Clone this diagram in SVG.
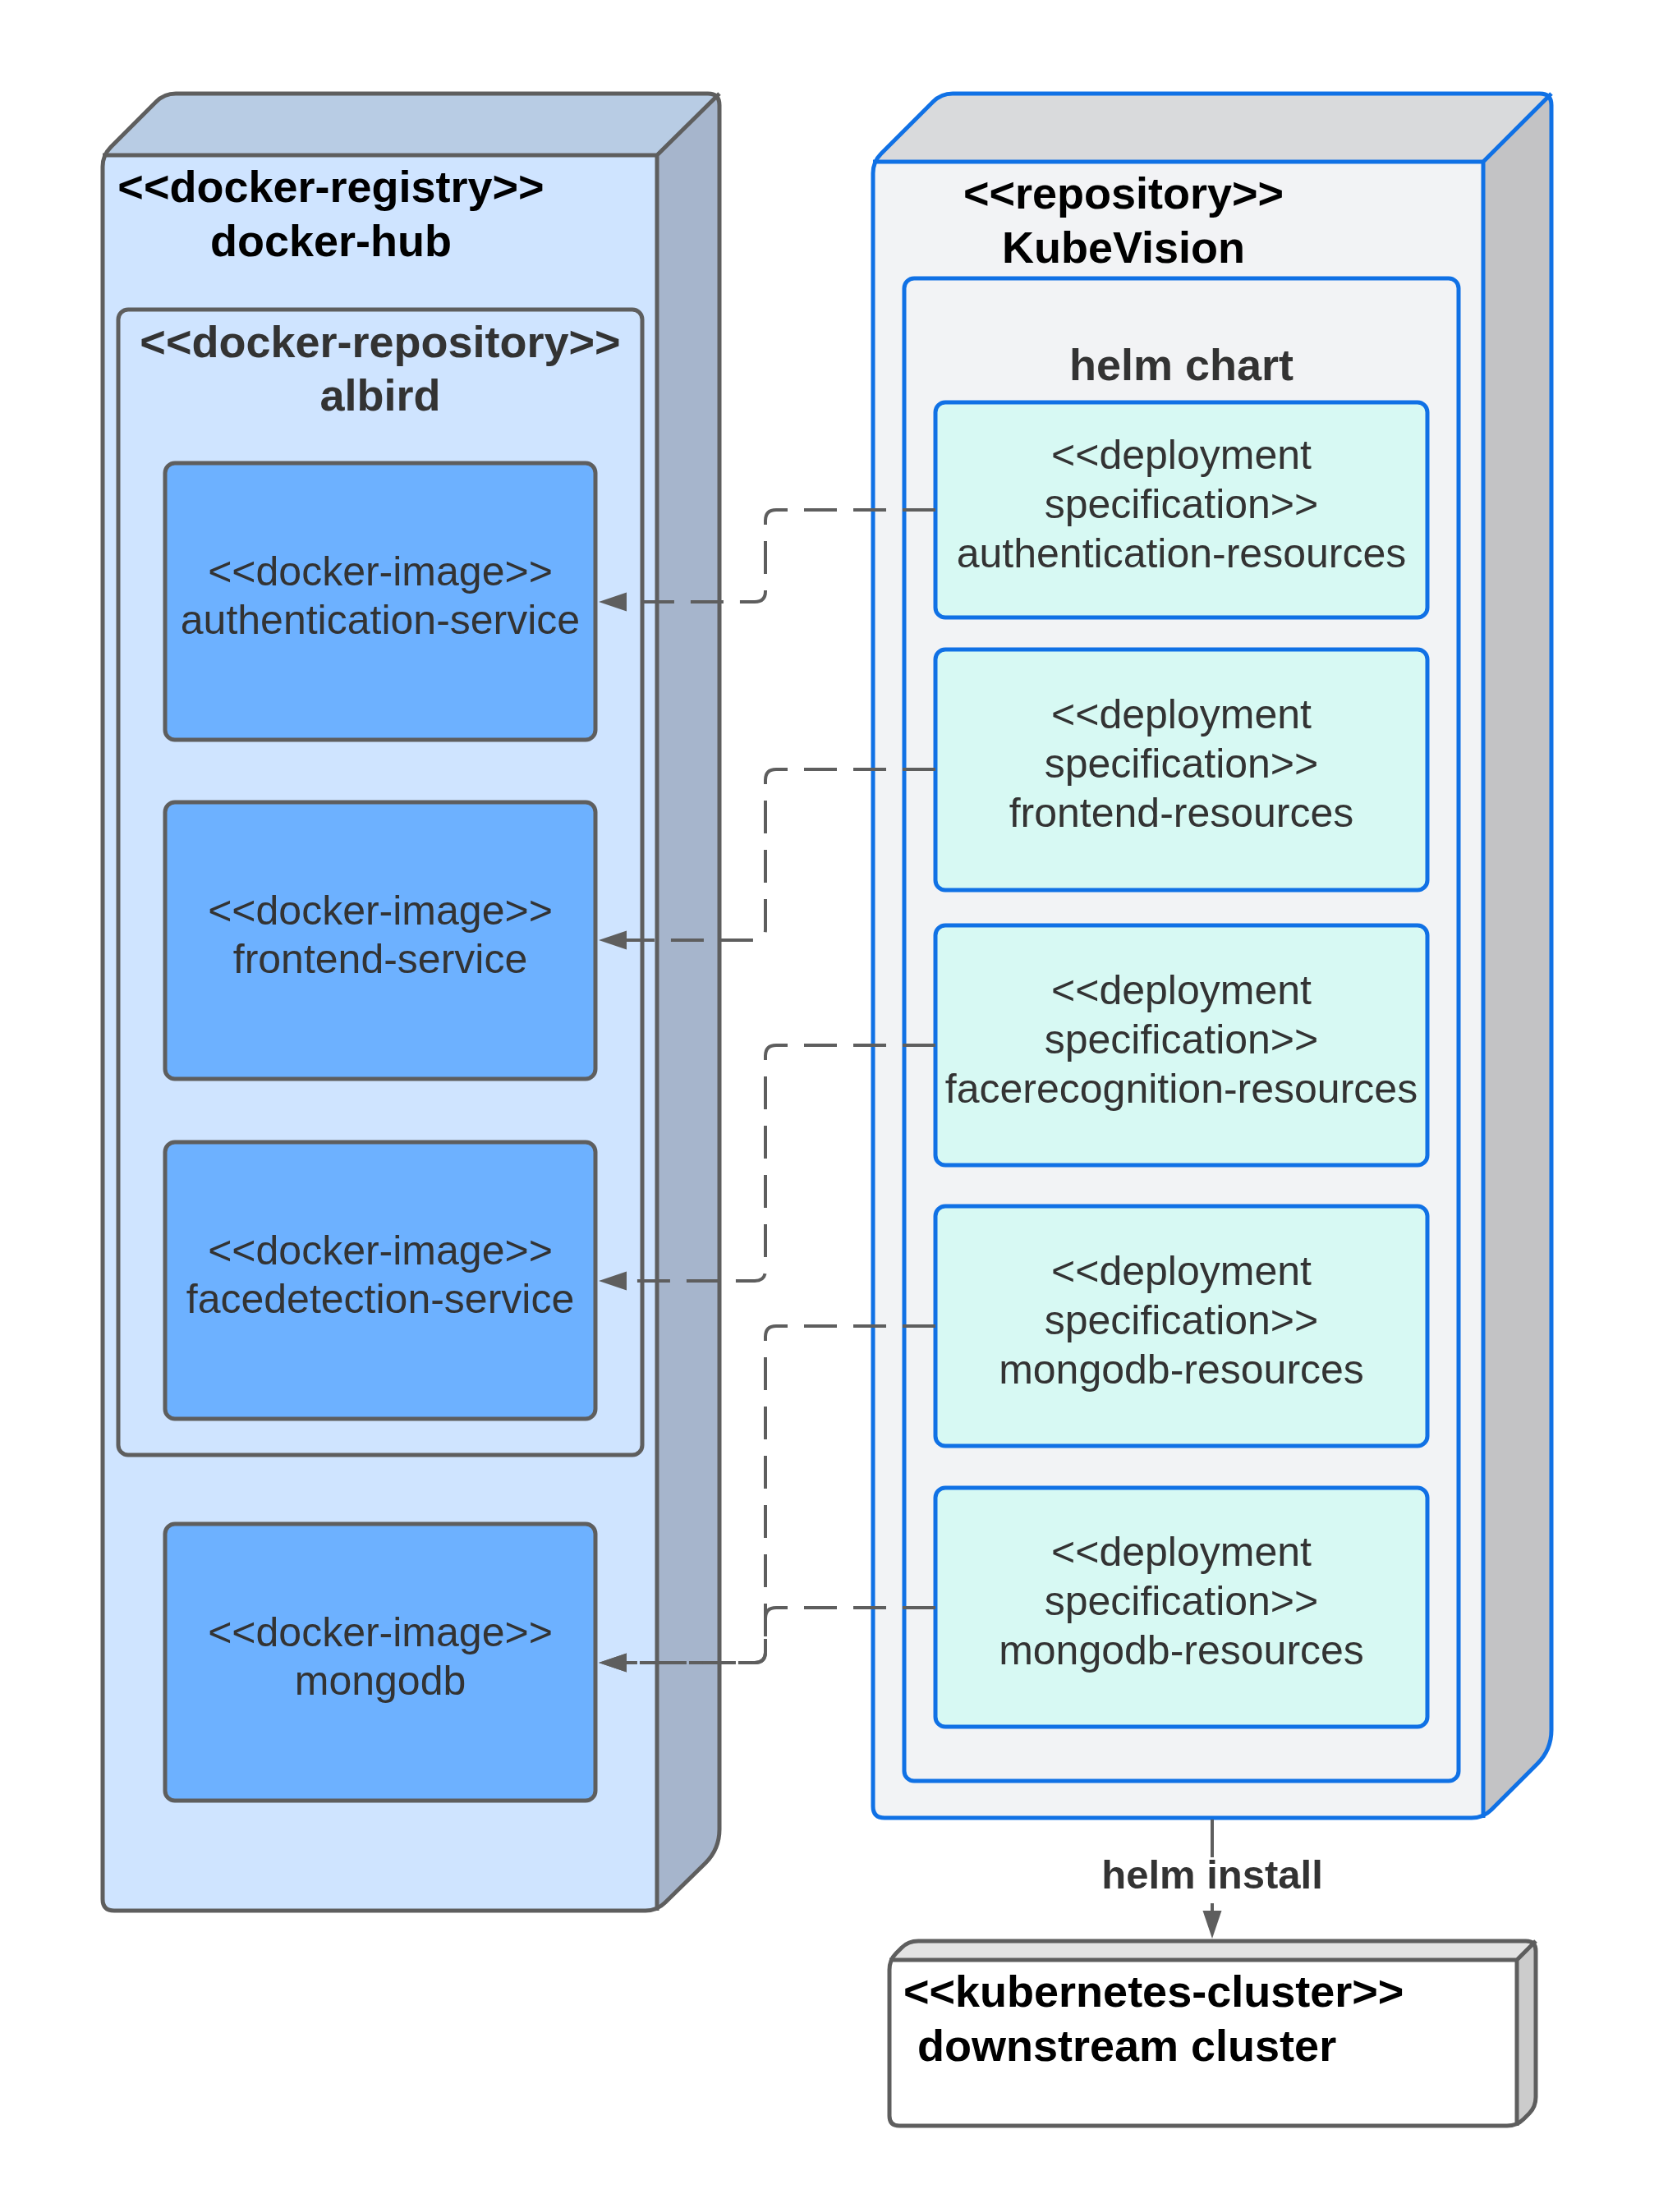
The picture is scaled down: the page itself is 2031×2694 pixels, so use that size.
<svg xmlns="http://www.w3.org/2000/svg" width="2031" height="2694" viewBox="0 0 2031 2694">
<style>
.edge{fill:none;stroke:#5e5e5e;stroke-width:5;stroke-linejoin:round}
.bedge{fill:none;stroke:#1071e5;stroke-width:5;stroke-linejoin:round}
.img{fill:#6db1ff;stroke:#5e5e5e;stroke-width:5}
.spec{fill:#d7f9f3;stroke:#1071e5;stroke-width:5}
.t{font-family:"Liberation Sans",Arial,sans-serif;text-anchor:middle}
.b{font-weight:bold;font-size:54px}
.r{font-size:50px;fill:#333333}
.k{fill:#000000}
.g{fill:#333333}
.dash{fill:none;stroke:#5e5e5e;stroke-width:4;stroke-dasharray:40 20}
</style>
<defs>
<clipPath id="clipL"><path d="M125,2313 V203 Q125,189 135,179 L190,124 Q200,114 214,114 H862 Q876,114 876,128 V2228 Q876,2252 859,2269 L810,2317 Q800,2327 786,2327 H139 Q125,2327 125,2313 Z"/></clipPath>
<clipPath id="clipR"><path d="M1063,2200 V211 Q1063,197 1073,187 L1136,124 Q1146,114 1160,114 H1875 Q1889,114 1889,128 V2107 Q1889,2131 1872,2148 L1816,2204 Q1806,2214 1792,2214 H1077 Q1063,2214 1063,2200 Z"/></clipPath>
<clipPath id="clipC"><path d="M1083,2577 V2399 Q1083,2387 1091,2379 L1098,2372 Q1106,2364 1118,2364 H1858 Q1870,2364 1870,2376 V2554 Q1870,2566 1862,2574 L1855,2581 Q1847,2589 1835,2589 H1095 Q1083,2589 1083,2577 Z"/></clipPath>
<marker id="arr" markerUnits="userSpaceOnUse" viewBox="0 0 34 24" markerWidth="34" markerHeight="24" refX="0" refY="12" orient="auto">
<path d="M0,0.5 L34,12 L0,23.5 Z" fill="#5e5e5e"/>
</marker>
</defs>
<rect x="0" y="0" width="2031" height="2694" fill="#ffffff"/>

<g id="docker-hub">
<g clip-path="url(#clipL)">
<polygon points="125,189 200,114 876,114 800,189" fill="#b8cce4"/>
<polygon points="800,189 876,114 876,2252 800,2327" fill="#a6b5cc"/>
<rect x="125" y="189" width="675" height="2138" fill="#cfe4ff"/>
</g>
<path class="edge" d="M125,2313 V203 Q125,189 135,179 L190,124 Q200,114 214,114 H862 Q876,114 876,128 V2228 Q876,2252 859,2269 L810,2317 Q800,2327 786,2327 H139 Q125,2327 125,2313 Z"/>
<path class="edge" d="M125,189 H800 L876,114 M800,189 V2327"/>
<text class="t b k" x="403" y="246">&lt;&lt;docker-registry&gt;&gt;</text>
<text class="t b k" x="403" y="312">docker-hub</text>
</g>

<g id="albird">
<rect x="144" y="377" width="638" height="1395" rx="12" fill="#cfe4ff" stroke="#5e5e5e" stroke-width="5"/>
<text class="t b g" x="463" y="435">&lt;&lt;docker-repository&gt;&gt;</text>
<text class="t b g" x="463" y="500">albird</text>
</g>

<g id="img-authentication">
<rect class="img" x="201" y="564" width="524" height="337" rx="12"/>
<text class="t r" x="463" y="713">&lt;&lt;docker-image&gt;&gt;</text>
<text class="t r" x="463" y="772">authentication-service</text>
</g>
<g id="img-frontend">
<rect class="img" x="201" y="977" width="524" height="337" rx="12"/>
<text class="t r" x="463" y="1126">&lt;&lt;docker-image&gt;&gt;</text>
<text class="t r" x="463" y="1185">frontend-service</text>
</g>
<g id="img-facedetection">
<rect class="img" x="201" y="1391" width="524" height="337" rx="12"/>
<text class="t r" x="463" y="1540">&lt;&lt;docker-image&gt;&gt;</text>
<text class="t r" x="463" y="1599">facedetection-service</text>
</g>
<g id="img-mongodb">
<rect class="img" x="201" y="1856" width="524" height="337" rx="12"/>
<text class="t r" x="463" y="2005">&lt;&lt;docker-image&gt;&gt;</text>
<text class="t r" x="463" y="2064">mongodb</text>
</g>

<g id="kubevision">
<g clip-path="url(#clipR)">
<polygon points="1063,197 1146,114 1889,114 1806,197" fill="#d9dadc"/>
<polygon points="1806,197 1889,114 1889,2131 1806,2214" fill="#c3c3c5"/>
<rect x="1063" y="197" width="743" height="2017" fill="#f2f3f5"/>
</g>
<path class="bedge" d="M1063,2200 V211 Q1063,197 1073,187 L1136,124 Q1146,114 1160,114 H1875 Q1889,114 1889,128 V2107 Q1889,2131 1872,2148 L1816,2204 Q1806,2214 1792,2214 H1077 Q1063,2214 1063,2200 Z"/>
<path class="bedge" d="M1063,197 H1806 L1889,114 M1806,197 V2214"/>
<text class="t b k" x="1368" y="254">&lt;&lt;repository&gt;&gt;</text>
<text class="t b k" x="1368" y="320">KubeVision</text>
</g>

<g id="helm-chart">
<rect x="1101" y="339" width="675" height="1830" rx="12" fill="#f2f3f5" stroke="#1071e5" stroke-width="5"/>
<text class="t b g" x="1438.5" y="463">helm chart</text>
</g>

<g id="spec-authentication">
<rect class="spec" x="1139" y="490" width="599" height="262" rx="12"/>
<text class="t r" x="1438.5" y="570.5">&lt;&lt;deployment</text>
<text class="t r" x="1438.5" y="630.5">specification&gt;&gt;</text>
<text class="t r" x="1438.5" y="690.5">authentication-resources</text>
</g>
<g id="spec-frontend">
<rect class="spec" x="1139" y="791" width="599" height="293" rx="12"/>
<text class="t r" x="1438.5" y="887">&lt;&lt;deployment</text>
<text class="t r" x="1438.5" y="947">specification&gt;&gt;</text>
<text class="t r" x="1438.5" y="1007">frontend-resources</text>
</g>
<g id="spec-facerecognition">
<rect class="spec" x="1139" y="1127" width="599" height="292" rx="12"/>
<text class="t r" x="1438.5" y="1222.5">&lt;&lt;deployment</text>
<text class="t r" x="1438.5" y="1282.5">specification&gt;&gt;</text>
<text class="t r" x="1438.5" y="1342.5">facerecognition-resources</text>
</g>
<g id="spec-mongodb-1">
<rect class="spec" x="1139" y="1469" width="599" height="292" rx="12"/>
<text class="t r" x="1438.5" y="1564.5">&lt;&lt;deployment</text>
<text class="t r" x="1438.5" y="1624.5">specification&gt;&gt;</text>
<text class="t r" x="1438.5" y="1684.5">mongodb-resources</text>
</g>
<g id="spec-mongodb-2">
<rect class="spec" x="1139" y="1812" width="599" height="291" rx="12"/>
<text class="t r" x="1438.5" y="1907">&lt;&lt;deployment</text>
<text class="t r" x="1438.5" y="1967">specification&gt;&gt;</text>
<text class="t r" x="1438.5" y="2027">mongodb-resources</text>
</g>

<g id="downstream-cluster">
<g clip-path="url(#clipC)">
<polygon points="1083,2387 1106,2364 1870,2364 1847,2387" fill="#e3e3e3"/>
<polygon points="1847,2387 1870,2364 1870,2566 1847,2589" fill="#cccccc"/>
<rect x="1083" y="2387" width="764" height="202" fill="#ffffff"/>
</g>
<path class="edge" d="M1083,2577 V2399 Q1083,2387 1091,2379 L1098,2372 Q1106,2364 1118,2364 H1858 Q1870,2364 1870,2376 V2554 Q1870,2566 1862,2574 L1855,2581 Q1847,2589 1835,2589 H1095 Q1083,2589 1083,2577 Z"/>
<path class="edge" d="M1083,2387 H1847 L1870,2364 M1847,2387 V2589"/>
<text class="b k" font-family="Liberation Sans, Arial, sans-serif" x="1100" y="2444">&lt;&lt;kubernetes-cluster&gt;&gt;</text>
<text class="b k" font-family="Liberation Sans, Arial, sans-serif" x="1117" y="2510">downstream cluster</text>
</g>

<g id="connectors">
<path class="dash" marker-end="url(#arr)" d="M1139,621 H945 Q932,621 932,634 V720 Q932,733 919,733 H763"/>
<path class="dash" marker-end="url(#arr)" d="M1139,937 H945 Q932,937 932,950 V1132 Q932,1145 919,1145 H763"/>
<path class="dash" marker-end="url(#arr)" d="M1139,1273 H945 Q932,1273 932,1286 V1547 Q932,1560 919,1560 H763"/>
<path class="dash" marker-end="url(#arr)" d="M1139,1615 H945 Q932,1615 932,1628 V2012 Q932,2025 919,2025 H763"/>
<path class="dash" marker-end="url(#arr)" d="M1139,1958 H945 Q932,1958 932,1971 V2012 Q932,2025 919,2025 H763"/>
<path fill="none" stroke="#5e5e5e" stroke-width="4" marker-end="url(#arr)" d="M1476,2216 V2327"/>
<rect x="1330" y="2262" width="292" height="56" fill="#ffffff"/>
<text class="t g" font-weight="bold" font-size="49" x="1476" y="2300">helm install</text>
</g>
</svg>
